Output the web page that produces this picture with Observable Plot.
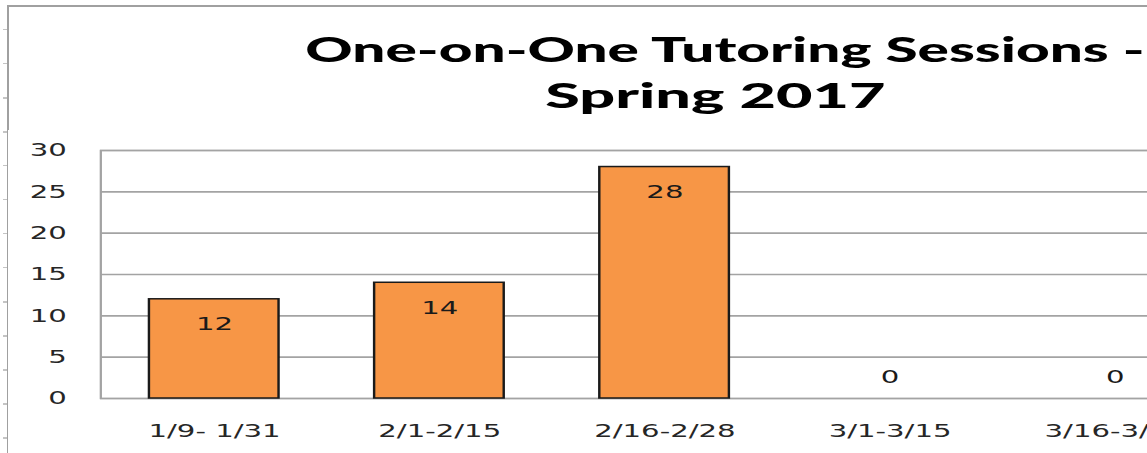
<!DOCTYPE html>
<html>
<head>
<meta charset="utf-8">
<script src="https://cdn.jsdelivr.net/npm/d3@7"></script>
<script src="https://cdn.jsdelivr.net/npm/@observablehq/plot@0.6"></script>
<style>
  html, body { margin: 0; padding: 0; background: #fff; }
  #viewport { position: relative; width: 1147px; height: 453px; overflow: hidden; background: #fff; }
  #border { position: absolute; left: 7px; top: 5px; width: 2000px; height: 1000px;
            border-left: 2px solid #a0a0a0; border-top: 2px solid #a0a0a0; box-sizing: border-box; }
  #rowticks { position: absolute; left: 3px; top: 0; width: 4px; height: 453px;
              background: repeating-linear-gradient(to bottom, transparent 0, transparent 29px, #c4c4c4 29px, #c4c4c4 30.5px, transparent 30.5px, transparent 34px); }
  #chart { position: absolute; left: 8px; top: 0; width: 880px; transform: scaleX(1.62); transform-origin: 0 0; }
  #title { width: 873px; height: 130px; box-sizing: border-box; padding-top: 25px; text-align: center;
           font-family: Lato, "Open Sans", sans-serif; font-weight: 900; font-size: 35px; line-height: 46px; color: #000; }
  #title .line { display: block; height: 46px; }
  #title .line span { display: inline-block; white-space: nowrap; transform-origin: 50% 0; }
</style>
</head>
<body>
<div id="viewport">
  <div id="rowticks"></div>
  <div id="border"></div>
  <div id="chart">
    <div id="title">
      <div class="line"><span id="line1">One-on-One Tutoring Sessions -</span></div>
      <div class="line"><span id="line2">Spring 2017</span></div>
    </div>
    <div id="plot"></div>
  </div>
</div>
<script>
const categories = ["1/9- 1/31", "2/1-2/15", "2/16-2/28", "3/1-3/15", "3/16-3/31"];
const sessions = [12, 14, 28, 0, 0];
const yTicks = [0, 5, 10, 15, 20, 25, 30];

const data = categories.map((c, i) => ({period: c, sessions: sessions[i]}));

const chart = Plot.plot({
  width: 880,
  height: 323,
  marginLeft: 56.8,
  marginRight: 127.2,
  marginTop: 20,
  marginBottom: 55,
  style: {fontFamily: "'DejaVu Sans', Verdana, sans-serif", fontSize: "18px", color: "#262626", background: "white", overflow: "visible"},
  x: {domain: categories, paddingInner: 0.423, paddingOuter: 0.2115, label: null, tickSize: 0, tickPadding: 26},
  y: {domain: [0, 30], ticks: yTicks, label: null, tickSize: 0, tickPadding: 21},
  marks: [
    Plot.ruleY(yTicks, {stroke: "#a3a3a3", strokeWidth: 1.6}),
    Plot.frame({stroke: "#a3a3a3", strokeWidth: 1.4}),
    Plot.barY(data, {x: "period", y: "sessions", fill: "#F79646", stroke: "#1a1a1a", strokeWidth: 1.5}),
    Plot.text(data.filter(d => d.sessions > 0), {x: "period", y: "sessions", text: d => String(d.sessions), dy: 25, fontSize: 18, fill: "#1a1a1a"}),
    Plot.text(data.filter(d => d.sessions === 0), {x: "period", y: "sessions", text: d => String(d.sessions), dy: -21, fontSize: 18, fill: "#1a1a1a"})
  ]
});
document.getElementById("plot").appendChild(chart);

// fit each title line to the reference widths (before the horizontal stretch)
function fit(id, target, shift) {
  const el = document.getElementById(id);
  const w = el.getBoundingClientRect().width / 1.62;
  el.style.transform = `translateX(${shift}px) scaleX(${target / w})`;
}
fit("line1", 518, 6.5);
fit("line2", 210, 0);
</script>
</body>
</html>
